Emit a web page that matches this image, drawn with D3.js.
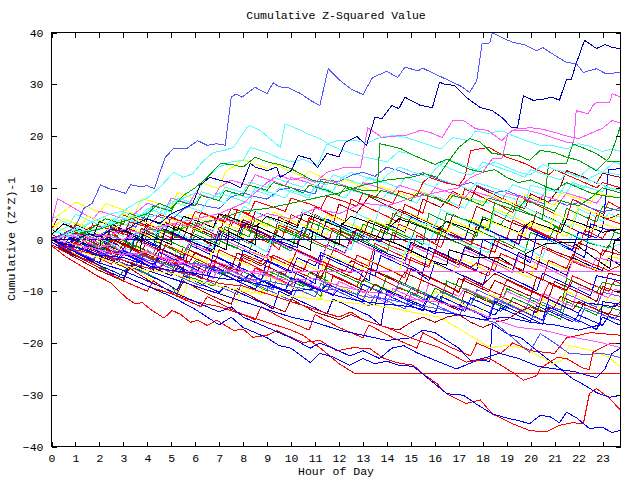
<!DOCTYPE html>
<html>
<head>
<meta charset="utf-8">
<script src="https://cdnjs.cloudflare.com/ajax/libs/d3/7.8.5/d3.min.js"></script>
<style>
body { margin: 0; background: #fff; }
text { font-family: "Liberation Mono", "DejaVu Sans Mono", monospace; font-size: 11.5px; fill: #000; }
</style>
</head>
<body>
<div id="chart"></div>
<script>
// tick labels
var hourTicks = [0,1,2,3,4,5,6,7,8,9,10,11,12,13,14,15,16,17,18,19,20,21,22,23];
var valueTicks = [-40,-30,-20,-10,0,10,20,30,40];

// one colour per series (gnuplot default line types)
var seriesColors = [
  "#ff0000","#ff0000","#ff0000","#ff0000","#ff0000","#b00000","#b00000","#b00000","#b00000","#b00000",
  "#00a000","#00a000","#00a000","#00a000","#0000ff","#0000ff","#0000ff","#0000ff","#0000b0","#5555ff",
  "#5555ff","#ffff00","#ffff00","#ffff00","#ffff00","#55ffff","#55ffff","#55ffff","#55ffff","#ff55ff",
  "#ff55ff","#ff55ff","#000000","#000000","#ff0000","#ff0000","#b00000","#00a000","#0000ff","#0000ff",
  "#5555ff","#ffff00","#b00000","#ff0000","#00a000","#55ffff",
  "#0000b0","#ff55ff","#ff0000","#ff0000","#0000ff","#0000ff","#0000ff","#ffff00","#5555ff","#ff0000",
  "#0000ff","#ff55ff","#55ffff","#55ffff","#00a000","#00a000","#ff55ff","#ff55ff","#0000b0","#5555ff"
];

// [hour, cumulative value] points
var seriesPoints = [
  [[0,1],[0.5,0],[1,-1.2],[1.25,1.5],[1.75,0.8],[2.5,-1],[2.75,0],[3.5,-1.8],[3.75,2.2],[4.5,0.6],[5,-0.2],[5.25,0.8],[6,-1.2],[6.75,-2.5],[7,1.8],[7.5,0.9],[8.25,-0.8],[8.5,0.5],[9.25,-1],[9.5,-2],[9.75,2],[10.5,0.3],[10.75,4.2],[11.5,2.5],[12.25,0.6],[12.5,-0.8],[12.75,2.3],[13.5,0.6],[14.25,-0.6],[14.5,3],[15.25,1.4],[15.75,0],[16.25,-1.6],[16.5,1.2],[17.5,-1],[17.75,2.8],[18.5,1.2],[19,0],[19.25,3.8],[20,2.1],[20.75,0.4],[21,-0.8],[21.25,3.2],[22,1.5],[22.5,0.3],[22.75,4.8],[23.25,3.8],[23.75,3]],
  [[0,0],[0.75,-2],[1,0.6],[1.75,-1.2],[2.5,-2.8],[2.75,-0.5],[3.5,-2.2],[4.25,-4],[4.5,-3.2],[5.25,-4.6],[5.5,-1.5],[6.25,-3],[7,-4.6],[7.75,-6],[8,-2.8],[8.75,-4.2],[9,-3],[9.75,-4.6],[10.5,-6.2],[10.75,-3.8],[11.5,-5.3],[11.75,-2],[12.5,-3.6],[13.25,-5.2],[13.5,-0.8],[14.25,-2.4],[15,-4],[15.75,-5.4],[16,-2.2],[16.75,-3.8],[17.5,-5.4],[17.75,-4.5],[18.5,-6],[18.75,-2.7],[19.5,-4.2],[20.25,-5.8],[20.5,-1.6],[21.25,-3.2],[22,-4.8],[22.75,-6],[23,-2],[23.75,-3]],
  [[0,-0.5],[0.75,-2.6],[1,-1.2],[1.75,-3],[2.5,-4.8],[2.75,-2],[3.5,-3.7],[4.25,-5.4],[5,-7],[5.25,-3.5],[6,-5.2],[6.5,-6.3],[6.75,-5],[7.5,-6.8],[8.25,-8.2],[8.5,-5.5],[9.25,-7.1],[10,-8.8],[10.25,-6.2],[11,-7.8],[11.25,-5.9],[12,-7.4],[12.75,-9.1],[13,-6],[13.75,-7.6],[14.5,-9.4],[15.25,-10.6],[15.5,-6.8],[16.25,-8.4],[17,-10],[17.25,-7.5],[18,-9.2],[18.75,-10.8],[19,-7.8],[19.75,-9.5],[20.5,-11],[20.75,-8.5],[21.5,-10],[21.75,-7],[22.5,-8.6],[23.25,-10],[23.5,-8],[23.75,-8.5]],
  [[0,2],[0.25,4],[1,2.3],[1.75,0.8],[2.25,-0.3],[2.5,2.7],[3.25,1],[3.5,4.3],[4.25,2.6],[5,1],[5.75,-0.4],[6,3.2],[6.75,1.6],[7,4.8],[7.75,3],[8.5,1.4],[9.25,0],[9.5,2.8],[10.25,1.2],[11,-0.3],[11.5,-1.4],[11.75,2.2],[12.5,0.6],[12.75,1.8],[13.5,0.2],[14.25,-1.4],[15,-2.6],[15.25,0.8],[16,-0.8],[16.25,2.3],[17,0.6],[17.75,-1],[18.5,-2.5],[18.75,0.8],[19.5,-0.8],[19.75,2.8],[20.5,1.2],[21.25,-0.4],[22,-1.9],[22.25,1.8],[23,0.2],[23.25,2],[23.75,1]],
  [[0,1],[0.5,3],[1.25,1.4],[1.5,0.6],[1.75,3.3],[2.5,1.7],[2.75,0.5],[3,4.8],[3.75,3.1],[4.5,1.5],[5,0.2],[5.25,3.8],[6,2.2],[6.25,5.3],[7,3.7],[7.5,2.6],[7.75,5.8],[8.5,4.1],[9.25,2.5],[9.75,1.3],[10,4.8],[10.75,3.2],[11,6.3],[11.75,4.6],[12.25,3.5],[12.5,7.8],[13.25,6.1],[14,4.5],[14.5,3.3],[14.75,6.8],[15.5,5.1],[15.75,8.8],[16.5,7.1],[17,6],[17.25,9.8],[18,8.1],[18.75,6.5],[19.25,5.2],[19.5,8.3],[20.25,6.7],[21,5],[21.5,3.9],[21.75,7.8],[22.5,6.1],[23,5],[23.25,7.3],[23.75,6]],
  [[0,0.5],[0.75,-1.2],[1,1.3],[1.75,-0.3],[2.25,-1.3],[2.5,2.3],[3.25,0.7],[4,-0.9],[4.5,-2],[4.75,1.8],[5.5,0.2],[5.75,3.3],[6.5,1.7],[7,0.6],[7.25,4.8],[8,3.1],[8.75,1.5],[9.25,0.4],[9.5,4.3],[10.25,2.7],[10.5,5.8],[11.25,4.1],[11.75,3],[12,6.8],[12.75,5.2],[13.25,8.3],[14,6.6],[14.75,5],[15.25,3.9],[15.5,7.8],[16.25,6.2],[16.75,9.3],[17.5,7.6],[17.75,10.3],[18.5,8.6],[19.25,7],[19.75,5.9],[20,8.8],[20.75,7.2],[21.25,10.3],[21.5,13.3],[22.25,12],[22.75,10.9],[23,12.8],[23.75,12]],
  [[0,0],[0.75,-1.8],[1.5,-3.4],[1.75,-4.3],[2,-1.4],[2.75,-3],[3.25,-0.7],[4,-2.3],[4.75,-3.9],[5.5,-5.5],[5.75,-2.1],[6.5,-3.7],[7.25,-5.3],[7.75,-6.6],[8,-3.5],[8.75,-5.1],[9.25,-3],[10,-4.6],[10.75,-6.2],[11.25,-7.7],[11.5,-4.6],[12.25,-6.2],[12.5,-4.1],[13.25,-5.7],[14,-7.3],[14.75,-8.9],[15,-5.6],[15.75,-7.2],[16.5,-8.8],[17,-10.3],[17.25,-7.1],[18,-8.7],[18.5,-6.6],[19.25,-8.2],[20,-9.8],[20.75,-11.4],[21,-8.1],[21.75,-9.7],[22.5,-11.3],[22.75,-12],[23,-9.1],[23.75,-10.4]],
  [[0,2],[0.75,0.3],[1,2.9],[1.75,1.3],[2.5,-0.3],[3,-1.8],[3.25,2.1],[4,0.5],[4.5,-0.7],[4.75,3.3],[5.5,1.7],[6.25,0.1],[6.75,-1.4],[7,2.4],[7.75,0.8],[8,3.8],[8.75,2.2],[9.5,0.6],[10.25,-0.9],[10.5,2.4],[11.25,0.8],[12,-0.8],[12.5,-2],[12.75,1.3],[13.5,-0.3],[13.75,1.9],[14.5,0.3],[15.25,-1.3],[16,-2.6],[16.25,0.9],[17,-0.7],[17.75,-2.3],[18.25,-3.6],[18.5,-0.2],[19.25,-1.8],[19.5,0.9],[20.25,-0.7],[21,-2.3],[21.75,-3.6],[22,-0.6],[22.75,-2.2],[23,-3.1],[23.25,-1.2],[23.75,-2.7]],
  [[0,-1],[0.75,-2.8],[1,-0.6],[1.75,-2.2],[2.5,-3.8],[3.25,-5],[3.75,-5.2],[4,3],[4.75,1.4],[5,4.4],[5.75,2.8],[6.5,1.2],[7.25,-0.2],[7.5,3.8],[8.25,2.2],[8.5,5.4],[9.25,3.8],[10,2.2],[10.75,0.8],[11,4.8],[11.75,3.2],[12.5,1.6],[13,0.4],[13.25,3.8],[14,2.2],[14.5,5.9],[15.25,4.3],[16,2.7],[16.5,1.5],[16.75,4.8],[17.5,3.2],[17.75,6.4],[18.5,4.8],[19.25,3.2],[20,1.9],[20.25,5.3],[21,3.7],[21.75,2.1],[22.25,0.9],[22.5,5.4],[23.25,4],[23.75,5]],
  [[0,-1],[1,-3.2],[1.25,-1.6],[2.5,-4.2],[3.25,-5.8],[3.5,-3.4],[4.5,-5.5],[4.75,-4.4],[6.25,-7.5],[6.5,-5.3],[7.75,-7.9],[8,-6.2],[9.25,-8.8],[10,-10.4],[10.25,-7.7],[11.5,-10.3],[11.75,-7.1],[13.25,-10.2],[13.5,-8.6],[14.75,-11.2],[15,-9.5],[16.25,-12.1],[17,-13.7],[17.25,-10],[18.5,-12.6],[18.75,-11],[20.25,-14.1],[20.5,-11],[21.75,-13.6],[22,-12],[23.25,-14.6],[23.5,-12.6],[23.75,-13]],
  [[0,0],[0.5,-1.2],[0.75,0.4],[1.75,-1.7],[2,-0.7],[3.5,-3.8],[3.75,-2.6],[5,-5.2],[5.75,-6.8],[6,-4.1],[7.25,-6.7],[7.5,-5.2],[8.75,-7.8],[9,-6],[10.5,-9.1],[10.75,-6.4],[12,-9],[12.75,-10.6],[13,-7.8],[14.25,-10.4],[14.5,-9.2],[15.75,-11.8],[16,-9.4],[17.5,-12.5],[17.75,-10.8],[19,-13.4],[19.25,-11.2],[20.5,-13.8],[21.25,-15.4],[21.5,-12],[22.75,-14.6],[23,-12.8],[23.75,-13.7]],
  [[0,0],[0.75,-2.2],[1.5,-4],[2.25,-5.8],[2.75,-7.6],[3,-6],[3.5,-5.4],[4.25,-7.2],[5,-9],[5.25,-10.8],[5.5,-7],[6,-7.6],[6.75,-9],[7.25,-6],[8,-7.8],[8.75,-9.4],[9,-10],[9.25,-6],[10,-7.6],[10.75,-9.2],[11.25,-11],[11.5,-5.5],[12.25,-7.1],[13,-8.7],[13.75,-10.3],[14,-7],[14.75,-8.6],[15.5,-10.2],[16.25,-11.8],[16.5,-8],[17.25,-9.6],[18,-11.2],[18.75,-12.8],[19,-9.5],[19.75,-11.1],[20.5,-12.7],[21.25,-14],[21.5,-7.5],[22.25,-9.1],[22.75,-10.2],[23,-8.3],[23.75,-9]],
  [[0,1],[0.75,-0.7],[1.5,-2.3],[2,-3.5],[2.25,1.5],[3,-0.1],[3.75,-1.7],[4.25,-2.9],[4.5,2],[5.25,0.4],[5.5,3],[6.25,1.4],[7,-0.2],[7.75,-1.6],[8,2.2],[8.75,0.6],[9.5,-1],[10,-2.2],[10.25,1.5],[11,-0.1],[11.25,4],[12,2.4],[12.75,0.8],[13.25,-0.4],[13.5,3.4],[14.25,1.8],[15,0.2],[15.5,-1],[15.75,5],[16.5,3.4],[17.25,1.8],[17.75,0.6],[18,4.4],[18.75,2.8],[19.25,6.5],[20,4.9],[20.75,3.3],[21.25,2.1],[21.5,6],[22.25,4.4],[22.75,3.4],[23,6.4],[23.75,5.5]],
  [[0,0.5],[0.75,-1.2],[1,1.9],[1.75,0.3],[2.5,-1.3],[3.25,-2.9],[3.5,1.4],[4.25,-0.2],[5,-1.8],[5.5,-3],[5.75,-0.5],[6,1.9],[6.75,0.3],[7.5,-1.3],[8.25,-2.6],[8.5,0.9],[9.25,-0.7],[9.5,2.4],[10.25,0.8],[11,-0.8],[11.75,-2.1],[12,1.9],[12.75,0.3],[13.5,-1.3],[14,-2.5],[14.25,1.4],[15,-0.2],[15.25,2.9],[16,1.3],[16.75,-0.3],[17.5,-1.6],[17.75,1.9],[18.5,0.3],[19.25,-1.3],[19.75,-2.5],[20,1.4],[20.75,-0.2],[21,2.4],[21.75,0.8],[22.5,-0.8],[23.25,-1.6],[23.5,1.5],[23.75,1]],
  [[0,-0.5],[1,-2.8],[1.25,-1.5],[2.75,-4.6],[3,-2.8],[3.75,-4.4],[5,-7],[5.25,-5.5],[6,-7],[6.25,-4.8],[7.75,-8],[8.5,-9.6],[8.75,-8],[10,-10.6],[10.25,-7.6],[11.75,-10.8],[12,-9.6],[12.75,-11.2],[13,-8.6],[14.5,-11.8],[15.5,-13.8],[15.75,-10.8],[17,-13.4],[17.25,-12],[18.5,-14.6],[18.75,-13.2],[20,-15.8],[20.25,-12.8],[21.75,-15.9],[22,-14.6],[23,-16.6],[23.25,-14.8],[23.75,-15.7]],
  [[0,0],[0.75,-1.6],[1,1],[1.75,-0.6],[2.5,-2.2],[3.25,-3.2],[3.5,0.5],[4.25,-1.1],[4.5,2.4],[5.25,0.8],[6,-0.8],[6.75,-2],[7,1.5],[7.75,-0.1],[8,2.9],[8.75,1.3],[9.5,-0.3],[10.25,-1.5],[10.5,2.4],[11.25,0.8],[11.5,3.9],[12.25,2.3],[13,0.7],[13.75,-0.5],[14,3],[14.75,1.4],[15,4.4],[15.75,2.8],[16.5,1.2],[17.25,0],[17.5,3.4],[18.25,1.8],[19,0.2],[19.5,-1],[19.75,2.4],[20.5,0.8],[21.25,-0.8],[21.75,-2],[22,1.5],[22.75,0.3],[23,2],[23.25,13.5],[23.75,13.7]],
  [[0,1],[0.75,-0.7],[1.5,-2.3],[2,-3.5],[2.25,-0.1],[3,-1.7],[3.25,1],[4,-0.6],[4.75,-2.2],[5.5,-3.6],[5.75,-1],[6.5,-2.6],[7.25,-4.2],[7.75,-5.8],[8,-2.1],[8.75,-3.7],[9.5,-5.3],[10,-6.5],[10.25,-3.5],[11,-5.1],[11.25,-2.5],[12,-4.1],[12.75,-5.7],[13.5,-7],[13.75,-3.1],[14.5,-4.7],[15.25,-6.3],[15.75,-7.9],[16,-4.5],[16.75,-6.1],[17.5,-7.7],[18,-8.9],[18.25,-5.5],[19,-7.1],[19.75,-8.7],[20.25,-9.9],[20.5,-6.5],[21.25,-8.1],[22,-9.7],[22.5,-10.9],[22.75,-7],[23.75,-8]],
  [[0,0],[0.75,-1.8],[1.5,-3.4],[2,-4.6],[2.25,-1],[3,-2.6],[3.75,-4.2],[4.25,-5.9],[4.5,-2.5],[5.25,-4.1],[6,-5.7],[6.5,-7],[6.75,-3],[7.5,-4.6],[8.25,-6.2],[8.75,-8],[9,-4],[9.75,-5.6],[10.5,-7.2],[11,-8.5],[11.25,-3],[12,-4.6],[12.75,-6.2],[13.25,-8],[13.5,-2],[14.25,-3.6],[15,-5.2],[15.5,-6.5],[15.75,-1.5],[16.5,-3.1],[17.25,-4.7],[17.75,-6],[18,0],[18.75,-1.6],[19.5,-3.2],[20,-4.5],[20.25,1],[21,-0.6],[21.75,-2.2],[22.25,-3.5],[22.5,3],[23.25,1.8],[23.75,2]],
  [[0,0.5],[0.75,-1.2],[1,1.5],[1.75,-0.1],[2.25,-1.2],[2.5,3],[3.25,1.4],[4,-0.2],[4.5,-1.4],[4.75,2],[5.5,0.4],[6.25,-1.2],[6.75,-2.4],[7,1],[7.75,-0.6],[8.5,-2.2],[9,-3.4],[9.25,0],[10,-1.6],[10.75,-3.2],[11.25,-4.4],[11.5,-1],[12.25,-2.6],[12.5,0.5],[13.25,-1.1],[14,-2.7],[14.75,-4],[15,-0.5],[15.75,-2.1],[16.5,-3.7],[17,-4.9],[17.25,-1.5],[18,-3.1],[18.75,-4.7],[19.25,-5.9],[19.5,-2.5],[20.25,-4.1],[21,-5.7],[21.5,-6.9],[21.75,-3.5],[22.5,-5.1],[23,-6],[23.25,-3.6],[23.75,-5]],
  [[0,0],[1.25,-2.6],[1.5,-0.8],[2.25,-2.4],[3.5,-5],[3.75,-3],[4.5,-4.6],[5.75,-7.2],[6,-4.6],[7,-6.7],[7.25,-5.5],[8.5,-8.1],[9.25,-9.7],[9.5,-6.4],[10.75,-9],[11,-7.5],[12.25,-10.1],[13,-11.7],[13.25,-9.1],[14.25,-11.2],[14.5,-8.4],[16,-11.5],[16.25,-10.1],[17.5,-12.7],[17.75,-9.7],[19,-12.3],[19.75,-13.9],[20,-11.1],[21.25,-13.7],[21.5,-10.5],[22.75,-13.1],[23,-10.2],[23.75,-11]],
  [[0,0],[0.5,1.2],[1,2],[1.5,1.2],[2,0.8],[2.5,2.2],[3,3],[3.5,2.4],[4,5],[4.5,4.4],[5,3.8],[5.5,5.8],[6,7],[6.5,6.4],[7,6],[7.5,8.2],[8,9],[8.5,8.3],[9,7.8],[9.5,9.6],[10,10],[10.5,9.4],[11,8.8],[11.25,11.6],[12,11.2],[12.5,12.4],[13,13],[13.5,12.2],[14,14],[14.5,13.3],[15,12.4],[15.5,12.9],[16,11.9],[16.5,11],[17,10.4],[17.5,11],[18,10],[18.5,9.1],[19,9.4],[19.5,8.5],[20,7.9],[20.5,7],[21,7.6],[21.5,6.6],[22,7.1],[22.5,6.1],[23,5.4],[23.75,6]],
  [[0,3],[0.75,1.3],[1,3.3],[1.75,1.7],[2.25,0.6],[2.5,4],[3.25,2.4],[4,0.8],[4.5,-0.4],[4.75,3.5],[5.5,1.9],[5.75,4.9],[6.5,3.3],[7.25,1.7],[8,0.4],[8.25,4],[9,2.4],[9.25,5.4],[10,3.8],[10.75,2.2],[11.5,0.9],[11.75,4.5],[12.5,2.9],[13.25,1.3],[13.75,0.1],[14,3.5],[14.75,1.9],[15,5],[15.75,3.4],[16.5,1.8],[17.25,0.6],[17.5,4],[18.25,2.4],[18.5,6],[19.25,4.4],[20,2.8],[20.75,1.5],[21,5],[21.75,3.4],[22,6.5],[22.75,4.9],[23.5,3.8],[23.75,5]],
  [[0,1],[1.25,-1.6],[1.5,0.4],[2.75,-2.2],[3,-0.4],[4.25,-3],[5,-4.6],[5.25,-1.8],[6.5,-4.4],[6.75,-2],[8.25,-5.1],[8.5,-2.4],[9.75,-5],[10,-3.6],[11.25,-6.2],[11.5,-2.8],[13,-5.9],[13.25,-4],[14.5,-6.6],[14.75,-2.2],[16,-4.8],[16.75,-6.4],[17,-3.6],[18.25,-6.2],[18.5,-4.4],[20,-7.5],[20.25,-3.4],[21.5,-6],[21.75,-3.8],[23,-6.4],[23.25,-3.2],[23.75,-3.7]],
  [[0,4],[0.4,5],[1,7.2],[1.5,6.3],[2,5.2],[2.25,7],[2.75,6.1],[3.5,5],[3.75,8],[4.5,6.9],[5,6.1],[5.25,9],[6,7.9],[6.25,11],[7,9.8],[7.25,13],[8,15.5],[8.5,14.6],[9,13.7],[9.25,14.7],[10,13.1],[10.5,12.2],[10.75,13.2],[11.5,11.6],[12,10.7],[12.25,11.7],[13,10.1],[13.5,9.1],[13.75,10.2],[14.5,9],[15,8.1],[15.25,9.6],[16,8.4],[16.5,7.5],[16.75,9],[17.5,7.9],[18,7.1],[18.25,8.6],[19,7.5],[19.5,6.6],[19.75,8.6],[20.5,7.4],[21,6.6],[21.25,9],[22,7.9],[22.5,7],[22.75,9],[23.75,8]],
  [[0,0],[0.75,-2.2],[1.5,-4],[2,-5.2],[2.25,-3],[3,-4.8],[3.75,-6.4],[4.25,-8],[4.5,-10.5],[5,-9.1],[5.5,-11],[5.75,-7.5],[6.5,-9.1],[7.25,-10.7],[7.75,-12],[8,-9],[8.75,-10.6],[9,-7],[9.75,-8.6],[10.5,-10.2],[11.25,-11.5],[11.5,-8],[12.25,-9.6],[13,-11.2],[13.5,-12.4],[13.75,-9],[14.5,-10.6],[15.25,-12.2],[15.75,-13.4],[16,-10],[16.75,-11.6],[17.5,-13.2],[18,-14],[18.25,-10.5],[19,-12.1],[19.75,-13.7],[20.25,-15],[20.5,-11.5],[21.25,-13.1],[21.5,-10],[22.25,-11.6],[23,-13.2],[23.25,-11.2],[23.75,-12]],
  [[0,4.6],[0.75,2.9],[1,4.9],[1.75,3.3],[2.5,1.7],[3,0.5],[3.25,3.9],[4,2.3],[4.5,1.2],[4.75,5.8],[5.5,4.2],[6.25,2.6],[6.75,1.5],[7,5],[7.75,3.4],[8,6.4],[8.75,4.8],[9.5,3.2],[10.25,2],[10.5,5.8],[11.25,4.2],[12,2.6],[12.5,1.5],[12.75,5],[13.5,3.4],[13.75,6.8],[14.5,5.2],[15.25,3.6],[16,2.4],[16.25,5.8],[17,4.2],[17.75,2.6],[18.25,1.5],[18.5,5.5],[19.25,3.9],[19.5,6.8],[20.25,5.2],[21,3.6],[21.75,2.4],[22,5.9],[22.75,4.3],[23,3.5],[23.25,5],[23.75,4.3]],
  [[0,2],[0.75,0.3],[1,2.4],[1.75,0.8],[2.5,-0.8],[3.25,-2],[3.5,1.4],[4.25,-0.2],[4.5,2.9],[5.25,1.3],[6,-0.3],[6.75,-1.5],[7,2],[7.75,0.4],[8.5,-1.2],[9,-2.4],[9.25,1],[10,-0.6],[10.25,2.4],[11,0.8],[11.75,-0.8],[12.5,-2],[12.75,1.4],[13.5,-0.2],[14.25,-1.8],[14.75,-3],[15,0.5],[15.75,-1.1],[16,2],[16.75,0.4],[17.5,-1.2],[18.25,-2.5],[18.5,1],[19.25,-0.6],[20,-2.2],[20.5,-3.4],[20.75,0],[21.5,-1.6],[21.75,1],[22.5,-0.6],[23.25,-1.8],[23.75,-0.8]],
  [[0,1],[0.75,2.6],[1.25,1.9],[1.75,3.8],[2.5,3],[3,5.3],[3.75,4.4],[4.25,6.6],[5,5.6],[5.25,8],[6,7],[6.25,9.2],[7,8.2],[7.25,10.1],[8,9.1],[8.25,11.1],[9,10.1],[9.25,12],[10,10.8],[10.5,10.1],[10.75,11.5],[11.5,10.6],[11.75,12.5],[12.5,11.4],[13,10.6],[13.25,12],[14,10.9],[14.5,10],[14.75,12],[15.5,10.9],[16,10.1],[16.25,11.6],[17,10.4],[17.5,9.6],[17.75,11],[18.5,9.9],[19,9.1],[19.25,10.6],[20,9.4],[20.5,8.6],[20.75,10],[21.5,9],[21.75,11],[22.5,9.9],[23,9.2],[23.25,10.6],[23.75,10]],
  [[0,0],[0.75,1.1],[1.25,0.2],[2,2],[2.5,3.5],[3.25,2.8],[3.5,5],[4.25,4.4],[4.75,6],[5,8],[5.75,7],[6,9],[6.75,7.9],[7.25,7],[7.5,9],[8.25,8],[8.5,10],[9.25,8.9],[9.75,8],[10,9.5],[10.75,8.5],[11,10],[11.75,8.9],[12.25,8],[12.5,9.5],[13.25,8.5],[13.75,7.5],[14,9],[14.75,8],[15.25,7],[15.5,9],[16.25,8],[16.75,7],[17.25,6],[17.5,8],[18.25,7],[18.5,9],[19.25,8],[19.75,6.8],[20,10.5],[20.75,9.6],[21.25,9],[21.5,11],[22.25,10],[22.5,12],[23,13],[23.5,15],[23.75,14.5]],
  [[0,1],[0.75,-0.7],[1,1.4],[1.75,-0.2],[2.5,-1.8],[3,-3],[3.25,0.4],[4,-1.2],[4.75,-2.8],[5.5,-4.2],[5.75,-0.6],[6.5,-2.2],[6.75,0.9],[7.5,-0.7],[8.25,-2.3],[9,-3.6],[9.25,-0.2],[10,-1.8],[10.75,-3.4],[11.25,-4.6],[11.5,-1.1],[12.25,-2.7],[12.5,0],[13.25,-1.6],[14,-3.2],[14.75,-4.6],[15,-1.1],[15.75,-2.7],[16.5,-4.3],[17,-5.5],[17.25,-2],[18,-3.6],[18.75,-5.2],[19.25,-6.4],[19.5,-3],[20.25,-4.6],[21,-6.2],[21.5,-7.4],[21.75,-4],[22.5,-5.6],[22.75,-3.5],[23.75,-4.5]],
  [[0,0],[1.25,-2.6],[1.5,-1.2],[2.75,-3.8],[3,-2.4],[4.5,-5.5],[4.75,-3.3],[6,-5.9],[6.75,-7.5],[7,-5.1],[8.5,-8.2],[8.75,-6.3],[10,-8.9],[10.25,-7.5],[11.75,-10.6],[12,-8.1],[13.25,-10.7],[14,-12.2],[14.25,-9.5],[15.5,-12.1],[15.75,-8.4],[17,-11],[17.25,-9.4],[18.75,-12.5],[19,-10],[20.25,-12.6],[20.5,-10.4],[21.75,-13],[22,-9.2],[23.25,-11.2],[23.5,-9.6],[23.75,-10]],
  [[0,3],[0.25,7.9],[0.75,6.6],[1.25,5.2],[1.75,4],[2,5.5],[2.75,4.4],[3.25,3.5],[3.5,5.1],[4,7],[4.75,5.9],[5,8],[5.75,6.9],[6,9],[6.75,7.9],[7,10],[7.5,11.5],[8.25,10.4],[8.5,12.5],[9.25,11.3],[9.75,10.4],[10,12],[10.75,10.9],[11.25,10],[11.5,11.5],[12.25,10.4],[12.75,9.5],[13,11],[13.75,9.9],[14.25,9],[14.5,10.5],[15.25,9.4],[15.75,8.5],[16,10],[16.75,8.9],[17.25,8],[17.5,9.5],[18.25,8.4],[18.75,7.5],[19,9],[19.75,7.9],[20.25,7],[20.5,8.5],[21.25,7.4],[21.5,9],[22.25,7.9],[22.75,7],[23,8.5],[23.75,8]],
  [[0,2],[1,0],[2,-2],[2.1,1],[3.3,-1.5],[3.7,-2.5],[3.8,1.5],[5,-1],[5.1,2.5],[6.3,0],[7.3,-2],[7.4,1.5],[8.5,-1],[8.6,2.5],[9.8,0],[10.8,-2],[10.9,1.5],[12,-1],[12.1,3],[13.7,0.4],[14.5,-1],[15.8,-4],[16.5,-5],[16.6,-2],[17.7,-3.5],[18.7,-3.4],[19.7,-6.4],[19.8,-2.7],[20.65,-0.8],[21.75,-0.5],[22.6,-3.4],[23.3,-5.6],[23.5,-0.2],[23.75,0.4]],
  [[0,1],[0.5,3],[1.25,1.8],[1.75,0.8],[2,3.5],[2.75,2.3],[3.25,1.3],[3.75,-0.5],[4,4],[4.75,2.8],[5.25,1.8],[5.5,4.5],[6.25,3.3],[6.75,2.3],[7,5],[7.75,3.8],[8.5,2.4],[9,4.5],[9.75,3.3],[10.25,2.3],[10.5,5],[11.25,3.8],[12,2.4],[12.5,4.5],[13.25,3.3],[14,1.9],[14.5,4],[15.25,2.8],[16,1.4],[16.5,3.5],[17.25,2.3],[17.75,1.3],[18,4],[18.75,2.8],[19.5,1.4],[20,3.5],[20.75,2.3],[21.25,1.3],[21.5,4],[22.25,2.8],[23,1.4],[23.75,2]],
  [[0,-0.5],[0.75,-2.3],[1,-0.3],[1.75,-1.9],[2.25,-3.1],[2.5,0],[3.25,-1.6],[4,-3.2],[4.5,-4.4],[4.75,-1],[5.5,-2.6],[6.25,-4.2],[6.75,-5.4],[7,-2],[7.75,-3.6],[8.5,-5.2],[9,-6.4],[9.25,-3],[10,-4.6],[10.25,-2],[11,-3.6],[11.75,-5.2],[12.5,-6.5],[12.75,-3],[13.5,-4.6],[14.25,-6.2],[14.75,-7.4],[15,-3.5],[15.75,-5.1],[16,-2.5],[16.75,-4.1],[17.5,-5.7],[18.25,-7],[18.5,-3.5],[19.25,-5.1],[20,-6.7],[20.5,-7.9],[20.75,-4],[21.5,-5.6],[21.75,-3],[22.5,-4.6],[23.25,-6],[23.75,-5]],
  [[0,0],[0.75,1.8],[1.25,1],[1.75,2.8],[2.5,1.9],[3,1],[3.25,3.4],[4,2.4],[4.5,4.8],[5.25,3.8],[5.75,2.9],[6,5.4],[6.75,4.4],[7.25,3.4],[7.5,6],[8.25,5],[8.5,7.4],[9.25,6.3],[9.75,5.4],[10,8],[10.75,6.9],[11.25,6],[11.5,8.4],[12.25,7.3],[12.75,6.4],[13,9],[13.75,7.9],[14.25,7],[14.5,9.4],[15.25,8.4],[15.5,11],[15.75,12],[16.5,10.9],[17,10.4],[17.25,12],[17.5,17.2],[18.25,17.8],[19,15.9],[19.75,14.7],[20.25,13.5],[20.75,12.5],[21,13.5],[21.75,12],[22.25,11],[22.75,10],[23,11],[23.75,10]],
  [[0,1],[0.5,0],[0.75,1.5],[2,-1.1],[2.75,-2.7],[3,-0.8],[4.25,-3.4],[4.5,-1.8],[5.75,-4.4],[6,-2.5],[7.5,-5.6],[7.75,-2.6],[9,-5.2],[9.75,-6.8],[10,-4.6],[11.25,-7.2],[11.5,-5.1],[13,-8.2],[13.25,-5.5],[14.5,-8.1],[14.75,-6.4],[16,-9],[16.75,-10.6],[17,-7.5],[18.25,-10.1],[18.5,-7.9],[20,-11],[20.25,-7.2],[21.5,-9.8],[21.75,-8.1],[23,-10.7],[23.25,-6.5],[23.75,-7]],
  [[0,0],[0.75,1.3],[1.25,0.6],[1.75,2.4],[2.25,4],[3,3],[3.25,5],[4,4],[4.25,6.5],[5,5.5],[5.25,7.5],[6,6.5],[6.25,8.5],[7,7.5],[7.25,9.5],[8,8.5],[8.25,10.5],[9,9.5],[9.25,11],[10,10],[10.5,9],[10.75,10.5],[11.5,9.5],[12,8.5],[12.25,10],[13,9],[13.5,8],[13.75,9.5],[14.5,8.5],[15,7.5],[15.25,9],[16,8],[16.5,7],[16.75,8.5],[17.5,7.5],[18,6.5],[18.25,8],[19,7],[19.5,6],[19.75,7.5],[20.5,6.5],[21,5.5],[21.25,7.5],[22,6.5],[22.5,8],[23,10],[23.75,9]],
  [[0,0],[0.5,-1.2],[0.75,0.3],[2,-2.4],[2.75,-4],[3,-2.2],[4.25,-4.8],[4.5,-3.6],[5.75,-6.2],[6.5,-7.8],[6.75,-5.2],[8,-7.8],[8.25,-6.8],[9.75,-9.9],[10,-7.4],[11.25,-10],[11.5,-8.6],[12.75,-11.2],[13.5,-12.8],[13.75,-9.2],[15,-11.8],[15.5,-12.8],[15.75,-10.8],[17.25,-13.9],[17.5,-11.3],[18.75,-13.9],[19,-12.5],[20.5,-15.6],[20.75,-11.6],[22,-14.2],[22.25,-12.2],[23.5,-13],[23.75,-12]],
  [[0,-0.5],[0.75,-2.5],[1.5,-4.3],[2.25,-6],[3,-7.5],[3.25,-5],[4,-6.8],[4.75,-8.4],[5.25,-9.8],[5.5,-7],[6.25,-8.6],[7,-10.2],[7.25,-9],[8,-10.6],[8.75,-12.2],[9.25,-13.4],[9.5,-10],[10.25,-11.6],[11,-13.2],[11.5,-14.4],[11.75,-11.5],[12.5,-13.1],[13.25,-14.7],[13.75,-16.6],[14,-10],[14.75,-11.6],[15.5,-13.2],[16,-14.4],[16.25,-11],[17,-12.6],[17.75,-14.2],[18.25,-15.4],[18.5,-12],[19.25,-13.6],[20,-15.2],[20.5,-16.4],[20.75,-13],[21.5,-14.6],[22.25,-16.2],[22.75,-17.4],[23,-15],[23.75,-16.6]],
  [[0,0],[1,-2.2],[1.75,-3.8],[2,-2.5],[3.25,-5.2],[4,-6.8],[4.25,-4.8],[5.5,-7.5],[6.25,-9],[6.5,-8],[7.75,-10.6],[8,-7.5],[9.25,-10.2],[10,-11.8],[10.25,-9.5],[11,-11.1],[11.25,-8.5],[12.5,-11.2],[13.25,-12.8],[13.5,-10.8],[14.75,-13.4],[15,-10.5],[16.25,-13.1],[17,-14.7],[17.25,-13],[18.25,-15],[18.5,-11.5],[19.75,-14.1],[20.5,-15.7],[20.75,-13.5],[22,-16],[22.25,-13.2],[23.5,-15.4],[23.75,-14]],
  [[0,2],[0.5,4],[1.25,2.6],[1.5,4.6],[2.25,3.2],[2.75,2.2],[3,5],[3.75,3.6],[4.5,2.2],[4.75,4.4],[5.5,3],[6.25,1.6],[6.5,4.5],[7.25,3.1],[7.75,2.1],[8,4.6],[8.75,3.2],[9.5,1.8],[9.75,4.2],[10.5,2.8],[11.25,1.4],[11.5,4.8],[12.25,3.4],[13,2],[13.25,4],[14,2.6],[14.75,1.2],[15,3.8],[15.75,2.4],[16.5,1],[16.75,3.6],[17.5,2.2],[18,1.2],[18.25,3.6],[19,2.2],[19.75,0.8],[20,3.4],[20.75,2],[21.5,0.6],[21.75,3.2],[22.5,1.8],[23,3],[23.75,2]],
  [[0,-1],[1,-3.5],[2,-6],[3,-8],[3.25,-5.5],[4.25,-8.5],[5.25,-10.5],[5.5,-8],[6.5,-10.5],[7.5,-12.5],[7.75,-9.5],[8.75,-12],[9.75,-14],[10,-11.5],[11,-14],[12,-15.5],[12.5,-14.5],[13,-15.5],[14,-17],[14.5,-17.5],[15,-16],[15.5,-15],[16,-16],[16.5,-15],[17,-14.5],[17.5,-16],[18,-17],[18.5,-16],[19,-15.5],[19.5,-14],[20,-13],[20.5,-14],[21,-13],[21.25,-11],[21.75,-12],[22.5,-13],[23,-14],[23.75,-15]],
  [[0,0],[1,-3],[2,-5.5],[3,-8],[4,-10],[4.25,-8],[5.25,-11],[6.25,-13],[6.5,-11],[7.5,-13.5],[8.5,-15.5],[8.75,-13],[9.75,-15.5],[10.75,-17.5],[11,-14.5],[12,-17],[13,-19],[13.25,-16.5],[14.25,-19],[15.25,-21],[15.5,-18],[16.5,-20.5],[17.5,-22.5],[17.75,-20],[18.75,-22],[19.25,-20],[20,-21.5],[21,-22],[21.5,-19],[22.5,-18],[23.75,-18.5]],
  [[0,0],[1,-2],[1.25,0.5],[2.25,-2],[2.5,1],[3.5,-1.5],[3.75,2],[4.75,0],[5.75,-2],[6,1],[7,-1],[7.25,2.5],[8.25,0.5],[8.5,4],[9.5,2],[10.5,0],[10.75,3.5],[11.75,1.5],[12.75,-0.5],[13,3],[14,1],[14.25,5],[15.25,3],[16.25,1],[16.5,5],[17.5,3.5],[18.25,2],[18.5,7],[19.5,5.5],[20.5,4],[20.75,14.7],[21.5,14.7],[21.75,18.5],[22.25,17.6],[22.75,16.6],[23.25,15],[23.75,15]],
  [[0,2],[0.75,0.6],[1,2],[1.5,1.2],[2.25,2.8],[2.75,4.5],[3.5,3.3],[4,6],[4.75,4.8],[5,7.5],[5.75,6.2],[6.25,5.4],[6.5,7.5],[7,9],[7.75,7.8],[8.25,7],[8.5,9.5],[9.25,8.3],[9.5,10],[10.25,8.8],[10.75,8],[11,10.5],[11.75,9.3],[12,11.5],[12.5,13],[13.25,11.8],[13.75,11],[14,12.5],[14.5,14],[15.25,12.8],[15.75,12],[16,13.5],[16.5,15.5],[17.25,14.3],[17.75,13.5],[18,15],[18.75,13.8],[19.25,13],[19.75,12],[20,13.5],[20.75,12.3],[21.25,11.5],[21.5,13],[22.25,11.8],[22.75,11],[23.25,10],[23.75,9.5]],
  // zero line
  [[0,0],[23.75,0]],
  // magenta that stops moving near -6
  [[0,0],[0.5,1],[1,0.5],[1.5,-0.5],[2,-1.5],[2.5,-1],[3,-2.5],[3.5,-3],[4,-2],[4.5,-3.5],[5,-4.5],[5.4,-6.2],[23.75,-6.2]],
  // red, lowest early, jumps at 22.45
  [[0,-1.2],[0.65,-3.5],[1.2,-5],[1.9,-7],[2.45,-8.3],[3.15,-11.4],[3.5,-12.4],[3.8,-12.2],[4.1,-13.4],[4.7,-15.2],[5.03,-13.7],[5.4,-14.5],[5.8,-16],[6.1,-15.6],[6.5,-16.6],[6.9,-15.6],[7.6,-17.6],[8,-17.3],[8.4,-18.9],[9,-18.5],[9.4,-17.6],[10,-18.9],[10.5,-19.9],[11.2,-19.5],[11.9,-21.5],[12.6,-20.9],[13.3,-21.1],[13.8,-22.8],[14.4,-23.8],[15.1,-24.3],[15.5,-25.9],[16.1,-27.9],[16.5,-29.8],[17.3,-31.7],[17.9,-31],[18.4,-33.7],[19.25,-35.6],[19.95,-36.9],[20.65,-37.2],[21.2,-35.9],[21.75,-35.4],[22.2,-35.6],[22.45,-29.8],[22.75,-28.8],[23.3,-30.7],[23.75,-33]],
  // red that stops at -26
  [[0,0],[1,-3],[2,-5],[3,-7],[4,-9],[5,-10.5],[6,-12],[7,-13],[8,-14.5],[9,-16],[10,-17.5],[10.5,-18.5],[11.2,-20.9],[12,-24],[12.67,-25.9],[23.75,-25.9]],
  // blue, lowest at the end
  [[0,0],[1,-2.5],[2,-5],[3,-7],[4,-9],[5,-11],[6,-13.5],[7,-16.5],[7.5,-15],[8,-17],[9,-19],[9.5,-20.5],[10,-21],[10.8,-23.8],[11.2,-22],[11.75,-22.7],[12.45,-24.3],[13,-23],[13.5,-24],[14,-23.5],[14.5,-24.3],[15.1,-24.5],[15.5,-26],[16,-27.9],[16.5,-29.8],[17.2,-30.1],[17.8,-32],[18.4,-33.7],[19,-34.5],[19.5,-35],[19.95,-35.6],[20.4,-34],[20.8,-34.2],[21.2,-35.4],[21.5,-33.4],[21.9,-34.4],[22.45,-36.5],[23,-36.3],[23.4,-37.3],[23.75,-36.9]],
  // blue with jump at 18.4
  [[0,0],[1,-2.5],[2,-4.5],[3,-6],[4,-8],[5,-10],[6,-12],[7,-14],[7.5,-13],[8,-15],[9,-17],[10,-19],[10.8,-21],[11.2,-20],[11.75,-21],[12.45,-22.5],[13,-21.5],[13.7,-23],[14.2,-21],[14.7,-20.5],[15.3,-22],[16.2,-23.7],[16.9,-25],[17.75,-23.4],[18.3,-23.5],[18.4,-16.3],[19,-18.2],[19.6,-19],[20.4,-22],[21.1,-24.5],[21.75,-26.9],[22.2,-28],[22.75,-29.6],[23.3,-30.5],[23.75,-30.1]],
  // blue curling up at the end
  [[0,0],[1,-1.5],[2,-3],[3,-4],[4,-6],[5,-7.5],[6,-9],[7,-10.5],[8,-12],[9,-13.5],[10,-15],[11,-16],[12,-17.5],[13,-18.5],[14,-19.5],[15,-19],[15.5,-17.5],[16,-18],[17,-21],[17.5,-23.5],[18,-23],[18.7,-22],[19.5,-23],[20.3,-24.5],[21,-25],[21.8,-25.5],[22.4,-26.3],[22.75,-26.7],[23.1,-25],[23.4,-22],[23.75,-21]],
  // yellow ending near -25
  [[0,0],[1,-2],[2,-3.5],[3,-5],[4,-6],[5,-6.5],[6,-8],[7,-9],[8,-10],[9,-10.5],[10,-11],[11,-11.5],[12,-12],[13,-12.5],[14,-13],[15,-14],[16.2,-15],[17.6,-18.9],[18.3,-20.9],[19,-20.5],[19.6,-20.9],[20.5,-22.8],[20.9,-24],[21.3,-23.4],[21.6,-20.5],[22.6,-21.5],[23.3,-22.8],[23.75,-24.7]],
  // medium blue ending near -22
  [[0,0],[1,-1.5],[2,-3],[3,-2],[4,-4],[5,-5],[6,-4.5],[7,-6],[8,-7.5],[9,-8],[10,-9],[11,-10],[12,-9.5],[13,-11],[14,-11.5],[15,-12.5],[16.2,-13.4],[17,-14.5],[18,-15.5],[18.5,-16],[19,-18],[19.5,-20],[19.95,-21.8],[20.4,-18.2],[21,-20],[21.6,-22],[22.3,-22.2],[23,-22],[23.75,-22.8]],
  // red with jump at 22.5
  [[0,0],[1,-2],[2,-3],[3,-4],[4,-5.5],[5,-6],[6,-7],[7,-8.5],[8,-9],[9,-10.5],[10,-12],[11,-13.5],[12,-15],[12.5,-14],[13,-15.5],[14,-17],[15,-19],[16.2,-20.9],[17.3,-23.7],[18.3,-23],[19.25,-25.7],[19.7,-27.2],[20.25,-26.3],[20.4,-24.9],[21.1,-22.8],[21.5,-23],[22.2,-24.9],[22.45,-25.1],[22.6,-21.8],[23.3,-20.1],[23.75,-20.1]],
  // blue with late jump
  [[0,0],[1,-1.5],[2,-3],[3,-3.5],[4,-5],[5,-6],[6,-6.5],[7,-7.5],[8,-8],[9,-9],[10,-10],[11,-9.5],[12,-11],[13,-12],[14,-12.5],[15,-13],[16,-14],[17,-14.5],[18,-15.5],[19,-15],[20,-16],[21,-16.5],[22,-17.5],[22.9,-16.5],[23,-12],[23.75,-12.5]],
  // magenta ending near -21
  [[0,0],[1,-1],[2,-2],[3,-3],[4,-2.5],[5,-4],[6,-5],[7,-4.5],[8,-6],[9,-7],[10,-8],[11,-7.5],[12,-9],[13,-10],[14,-10.5],[15,-11.5],[16,-12],[17,-13],[18,-14.5],[18.5,-15.5],[19.5,-17],[20.5,-17.5],[21.75,-18.9],[22.5,-19.5],[23,-20],[23.75,-20.9]],
  // upper cyan, peaks near 22
  [[0,0],[0.5,1],[1,2],[1.5,3],[2,4],[2.5,5],[3,5.5],[3.5,7],[4,8],[4.5,10],[5.1,13],[5.5,12],[5.9,12.7],[6.3,15],[6.75,16.8],[7.2,17.2],[7.6,17.8],[8.15,21.6],[8.3,22],[8.7,21.1],[9.55,17.8],[9.75,22.4],[10.25,21.4],[10.65,20.5],[11.2,19.5],[11.55,18.5],[11.9,19.1],[12.7,19.1],[13.2,18.7],[13.7,19.7],[14.25,20.1],[14.8,19.7],[15.8,18.2],[16.25,17.5],[16.75,19.7],[17.4,19.1],[17.7,21],[18.2,20.5],[18.8,21],[19.3,20],[19.8,19.1],[20.4,18.2],[20.9,18.2],[21.5,17.5],[22,18.5],[22.5,18],[23,17],[23.4,17.5],[23.75,17]],
  // second cyan
  [[0,0],[1,1.5],[2,2],[3,4],[4,5],[5,7],[6,9],[6.5,12],[7,14],[7.5,15],[8,15.3],[8.3,17.8],[9,16.8],[9.55,15.6],[10,15],[10.5,15.5],[11.1,14.3],[11.5,18.5],[12,17.5],[12.45,16.8],[13,16],[13.4,15.6],[14,15],[14.5,17],[15,16.5],[15.5,15.5],[16,14.5],[16.5,14],[17,13],[17.5,12.5],[18,14],[18.5,15],[19,14],[19.5,13],[20,12.5],[20.5,14.5],[21,13.5],[21.5,13],[22,12],[22.5,14],[23,13],[23.75,12.5]],
  // green with a late climb
  [[0,0],[1,-1],[2,1],[3,0],[4,2],[5,1.5],[6,3],[7,4],[8,5.5],[9,6],[10,7],[11,8],[12,9],[13,10.5],[14,11.5],[15,12],[15.6,12.7],[16.1,12],[16.7,15.9],[17,17.8],[17.45,19.5],[17.9,18.8],[18.4,16.6],[19.5,16.2],[19.95,15.3],[20.4,17.2],[21,16.8],[21.5,15.9],[22,15.3],[22.75,13.3],[23.3,15.9],[23.6,19.7],[23.75,22]],
  // green jumping at 13.7
  [[0,0],[1,1],[2,2],[3,3.5],[4,5],[4.5,7],[5,6],[5.5,8.5],[6,10],[6.5,12],[7.05,14.7],[7.5,14.5],[8,14],[8.5,15.9],[9,15],[9.5,14.5],[10,13.7],[10.9,11.4],[11.5,11],[12,10.5],[12.5,10],[13,9.5],[13.6,9.5],[13.7,18.5],[14.2,18],[14.6,17.5],[15,16.5],[15.5,15.5],[16,14.5],[16.5,15.5],[17,14.5],[17.5,13.5],[18,13],[18.5,13.5],[19,12],[19.5,11],[20,11.5],[20.5,10.5],[21,9.5],[21.5,11],[22,10],[22.5,9],[23,8.5],[23.75,8]],
  // magenta ending near 27
  [[0,0],[1,-1],[2,1],[3,0],[4,2],[5,3],[6,4],[7,5],[8,7],[8.5,9],[9,11],[9.5,12.5],[10,11.5],[10.5,12],[11,11],[11.5,13],[12.2,13.9],[12.9,13.9],[13.2,21.6],[13.8,19.7],[14.4,20],[14.8,20.1],[15.4,21.1],[15.8,20.7],[16.3,19.7],[16.75,23],[17.2,23],[17.7,21.4],[18.2,21.1],[18.8,19.1],[19.2,21.1],[19.8,21.1],[20.4,20.5],[20.9,19.7],[21.5,18.8],[21.8,18.8],[21.9,24.9],[22.4,24.3],[22.6,25.9],[22.75,26.5],[23.3,26.5],[23.4,28.2],[23.75,27.5]],
  // magenta ending near 22
  [[0,0],[1,1],[2,0],[3,2],[4,1],[5,3],[6,2.5],[7,4],[8,3],[9,5],[10,4],[11,6],[12,5],[13,7],[14,6.5],[15,8],[16,9],[17,10],[17.5,12],[18,13],[18.4,15.6],[18.8,15.6],[19.05,20.5],[19.4,21.4],[20,21.6],[20.5,21.3],[21,20.7],[21.5,20],[22,19.5],[22.5,20.5],[23,21.5],[23.4,23],[23.75,22.5]],
  // navy, ends highest
  [[0,0],[0.5,-1],[1,0],[1.5,1],[2,0.5],[2.5,2],[3,1.5],[3.5,3],[4,4],[4.5,3],[5,5],[5.5,6],[5.9,7],[6.2,10.5],[6.6,12],[7,11.5],[7.45,11],[7.9,10],[8.3,14.7],[8.5,14],[9,13.3],[9.4,14],[9.55,12],[10,13.3],[10.3,16.2],[10.8,15.6],[11.1,13.9],[11.5,16.6],[12,16],[12.25,18.7],[12.75,19.9],[13.15,18.2],[13.5,23.6],[13.8,23.4],[14.2,25.9],[14.5,25.3],[14.75,27.5],[15.4,25.9],[15.9,25.5],[16.2,30.4],[16.4,30],[16.8,29.8],[17.3,27.5],[17.9,25.5],[18.4,24.9],[18.85,23.4],[19.2,21.6],[19.45,21.6],[19.7,27.8],[20.1,26.9],[20.5,27.1],[20.9,27.5],[21.2,26.9],[21.5,31],[21.7,31],[21.9,34],[22.25,38.5],[22.75,36.9],[23.1,37.7],[23.4,37.1],[23.75,36.9]],
  // medium blue, the top line
  [[0,0],[0.5,1],[1,2.5],[1.35,6],[1.7,7],[2.05,10.6],[2.4,9.8],[2.7,9.5],[3.1,8.9],[3.3,10.6],[3.7,10.2],[4,10.4],[4.3,9.8],[4.55,13.3],[4.75,15.9],[5.1,17.6],[5.65,17.6],[6.1,19.1],[6.5,18.2],[6.9,18.5],[7.25,18.2],[7.5,27.5],[7.7,28.1],[7.95,27.5],[8.5,29.4],[9,28.2],[9.25,30.3],[9.5,29.5],[9.9,29.3],[10.4,28.2],[10.8,26.9],[11.2,25.9],[11.55,33],[12.05,30.7],[12.5,29.1],[13,28],[13.4,31.3],[14,32.5],[14.45,31.3],[14.75,33.3],[15.3,32.6],[15.5,33.1],[16,32],[16.6,30.7],[17.1,29.6],[17.45,28.4],[17.75,30.7],[17.97,37.8],[18.3,38],[18.4,40],[18.8,39],[19.25,38.1],[19.7,37.7],[20.25,36.5],[20.5,37.1],[20.9,35.9],[21.5,34.2],[21.9,34],[22.2,32.3],[22.75,33],[23.15,32],[23.75,32.3]]
];

var width = 640, height = 480;

var svg = d3.select("#chart").append("svg")
    .attr("width", width)
    .attr("height", height);

var x = d3.scaleLinear().domain([0, 23.75]).range([51.5, 620.5]);
var y = d3.scaleLinear().domain([-40, 40]).range([446.5, 32.5]);

var line = d3.line()
    .x(function(d) { return x(d[0]); })
    .y(function(d) { return y(d[1]); });

// series
svg.append("g")
    .attr("class", "series")
  .selectAll("path")
  .data(seriesPoints)
  .enter()
  .append("path")
    .attr("d", line)
    .attr("fill", "none")
    .attr("stroke", function(d, i) { return seriesColors[i]; })
    .attr("stroke-width", 1)
    .attr("shape-rendering", "crispEdges");

// axes, ticks pointing inwards on all four sides
function tidy(g) {
    g.select(".domain").remove();
    g.selectAll("line").attr("stroke", "#000").attr("shape-rendering", "crispEdges");
    g.selectAll("text").attr("font-family", null).attr("font-size", null);
}

svg.append("g")
    .attr("transform", "translate(0," + y(-40) + ")")
    .call(d3.axisBottom(x).tickValues(hourTicks).tickSize(-5).tickPadding(7))
    .call(tidy);

svg.append("g")
    .attr("transform", "translate(0," + y(40) + ")")
    .call(d3.axisTop(x).tickValues(hourTicks).tickSize(-5).tickFormat(""))
    .call(tidy);

svg.append("g")
    .attr("transform", "translate(" + x(0) + ",0)")
    .call(d3.axisLeft(y).tickValues(valueTicks).tickSize(-5).tickPadding(8))
    .call(tidy);

svg.append("g")
    .attr("transform", "translate(" + x(23.75) + ",0)")
    .call(d3.axisRight(y).tickValues(valueTicks).tickSize(-5).tickFormat(""))
    .call(tidy);

svg.append("rect")
    .attr("x", x(0))
    .attr("y", y(40))
    .attr("width", x(23.75) - x(0))
    .attr("height", y(-40) - y(40))
    .attr("fill", "none")
    .attr("stroke", "#000")
    .attr("shape-rendering", "crispEdges");

// titles
svg.append("text")
    .attr("x", 336)
    .attr("y", 19)
    .attr("text-anchor", "middle")
    .text("Cumulative Z-Squared Value");

svg.append("text")
    .attr("x", 336)
    .attr("y", 475)
    .attr("text-anchor", "middle")
    .text("Hour of Day");

svg.append("text")
    .attr("transform", "translate(15,239) rotate(-90)")
    .attr("text-anchor", "middle")
    .text("Cumulative (Z*Z)-1");
</script>
</body>
</html>
